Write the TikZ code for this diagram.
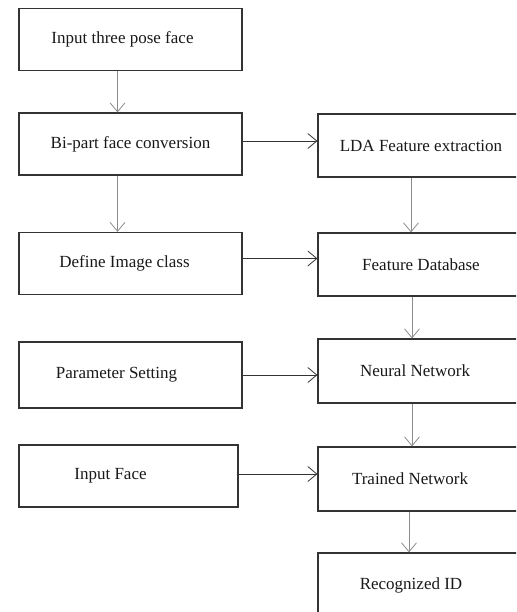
\documentclass[tikz,border=0pt]{standalone}
\usepackage{fontspec}
\setmainfont{Liberation Serif}
\usetikzlibrary{arrows.meta,positioning}

\begin{document}
\begin{tikzpicture}[x=1pt,y=-1pt,>={Straight Barb[length=9pt,width=15pt]},
                    line width=0.8pt,
                    font=\fontsize{17}{20}\selectfont]
  \tikzstyle{every node}=[draw=black!80,line width=1.2pt,fill=white,text=black!90,inner sep=0pt]
  \tikzstyle{leftbox}=[minimum width=223pt,minimum height=62pt]
  \tikzstyle{rightbox}=[minimum width=206pt,minimum height=64pt]
  \tikzstyle{down}=[->,draw=black!45]
  \tikzstyle{across}=[->,draw=black!80]

  \useasboundingbox (0,0) rectangle (516,612);
  \clip (0,0) rectangle (516,612);

  \node[leftbox] (pose)   at (130.5,39.5) {Input three pose face\hspace*{16pt}};
  \node[leftbox] (bipart) at (130.5,144)  {Bi-part face conversion};
  \node[leftbox] (class)  at (130.5,263.5){Define Image class\hspace*{12pt}};
  \node[leftbox,minimum height=66pt] (param) at (130.5,375) {Parameter Setting\hspace*{28pt}};
  \node[leftbox,minimum width=219pt] (face) at (128.5,476) {Input Face\hspace*{36pt}};

  \node[rightbox,minimum height=63pt] (lda)    at (421,145.5) {LDA Feature extraction};
  \node[rightbox,minimum height=63pt] (fdb)    at (421,264.5) {Feature Database};
  \node[rightbox] (neural) at (421,371) {Neural Network\hspace*{12pt}};
  \node[rightbox] (trained) at (421,479) {Trained Network\hspace*{22pt}};
  \node[rightbox] (recog)  at (421,585) {Recognized ID\hspace*{20pt}};

  \draw[down] ([xshift=-13pt]pose.south) -- ([xshift=-13pt]bipart.north);
  \draw[down] ([xshift=-13pt]bipart.south) -- ([xshift=-13pt]class.north);
  \draw[down] ([xshift=-10pt]lda.south) -- ([xshift=-10pt]fdb.north);
  \draw[down] ([xshift=-9pt]fdb.south) -- ([xshift=-9pt]neural.north);
  \draw[down] ([xshift=-9pt]neural.south) -- ([xshift=-9pt]trained.north);
  \draw[down] ([xshift=-12pt]trained.south) -- ([xshift=-12pt]recog.north);

  \draw[across] ([yshift=3pt]bipart.east) -- ([yshift=3pt]bipart.east -| lda.west);
  \draw[across] ([yshift=5pt]class.east) -- ([yshift=5pt]class.east -| fdb.west);
  \draw[across] (param.east) -- (param.east -| neural.west);
  \draw[across] ([yshift=2pt]face.east) -- ([yshift=2pt]face.east -| trained.west);
\end{tikzpicture}
\end{document}
